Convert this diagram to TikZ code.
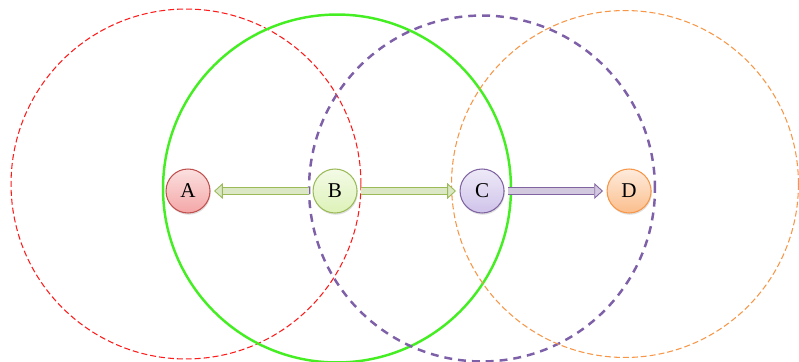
\documentclass[tikz,border=0pt]{standalone}
\usepackage{fontspec}
\setmainfont{Liberation Serif}
\definecolor{ringred}{HTML}{FF1A1A}
\definecolor{ringgreen}{HTML}{44EE22}
\definecolor{ringpurple}{HTML}{7E60A8}
\definecolor{ringorange}{HTML}{F79646}
\definecolor{nodered}{HTML}{F4A6A6}
\definecolor{edgered}{HTML}{C0504D}
\definecolor{nodegreen}{HTML}{DDF2B8}
\definecolor{edgegreen}{HTML}{9BBB59}
\definecolor{nodepurple}{HTML}{CFC3EA}
\definecolor{edgepurple}{HTML}{8064A2}
\definecolor{nodeorange}{HTML}{FBBE8C}
\usetikzlibrary{arrows.meta,positioning,shadows}

\begin{document}
\begin{tikzpicture}[x=0.02cm, y=-0.02cm,
  peer/.style={circle, minimum size=0.88cm, inner sep=0pt, font=\large, line width=0.6pt,
    drop shadow={opacity=0.25, shadow xshift=0.4pt, shadow yshift=-1pt}},
  pa/.style={peer, draw=edgered, top color=nodered!35, bottom color=nodered},
  pb/.style={peer, draw=edgegreen, top color=nodegreen!35, bottom color=nodegreen},
  pc/.style={peer, draw=edgepurple, top color=nodepurple!35, bottom color=nodepurple},
  pd/.style={peer, draw=ringorange, top color=nodeorange!30, bottom color=nodeorange},
  link/.style={draw=#1, line width=0.5pt, double=#1!35, double distance=3pt,
    -{Triangle[length=5pt, width=9pt, fill=#1!35]}, shorten <=2pt, shorten >=2pt},
  node distance=2.04cm]
\useasboundingbox (0,0) rectangle (799,362);
% ranges
\draw[ringred, line width=0.6pt, dash pattern=on 3.4pt off 1.7pt] (186,184) circle[radius=3.5cm];
\draw[ringgreen, line width=1.4pt] (337,188.5) circle[radius=3.48cm];
\draw[ringpurple, line width=1.4pt, dash pattern=on 4.5pt off 3.4pt] (482,188.5) circle[radius=3.46cm];
\draw[ringorange, line width=0.6pt, dash pattern=on 3.4pt off 1.7pt] (625,184) circle[radius=3.47cm];
% stations
\node[pa] (a) at (188,191) {A};
\node[pb, right=of a] (b) {B};
\node[pc, right=of b] (c) {C};
\node[pd, right=of c] (d) {D};
\foreach \x/\y/\c in {b/a/edgegreen, b/c/edgegreen, c/d/edgepurple}
  \draw[link=\c] (\x) -- (\y);
\end{tikzpicture}
\end{document}
